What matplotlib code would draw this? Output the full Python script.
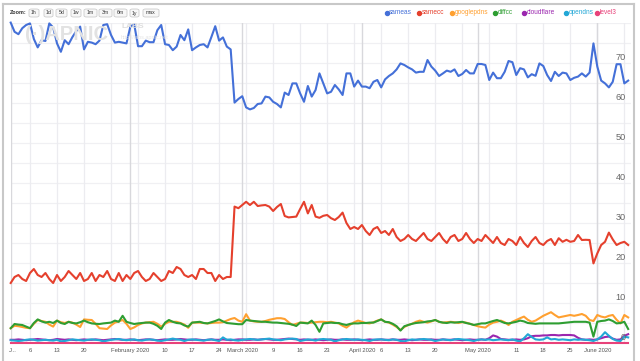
import matplotlib
matplotlib.use("Agg")
import matplotlib.pyplot as plt
import numpy as np
import datetime as dt
from matplotlib.patches import FancyBboxPatch
from matplotlib.lines import Line2D

plt.rcParams['font.family'] = ['Liberation Sans', 'DejaVu Sans']

start = dt.date(2020, 1, 1)

series_names = ["sameas", "samecc", "googlepdns", "diffcc", "cloudflare", "opendns", "level3"]
series_colors = ["#4470d8", "#e5402d", "#ffa030", "#2e9e32", "#9b27af", "#22a7d6", "#e8427a"]

sameas = [80.1, 77.8, 77.2, 78.7, 79.5, 79.9, 76.0, 73.9, 75.7, 75.5, 79.9, 78.9, 74.9, 72.8, 75.7, 74.7,
          76.5, 78.0, 79.1, 73.4, 75.3, 75.1, 74.7, 75.6, 79.5, 79.7, 77.0, 75.1, 75.3, 75.1, 74.9, 79.1,
          79.7, 74.2, 74.2, 75.6, 75.2, 75.2, 78.2, 79.5, 74.7, 74.5, 73.2, 74.1, 77.0, 75.7, 78.4, 73.2,
          73.9, 74.5, 74.7, 73.9, 76.5, 79.2, 75.6, 76.4, 74.1, 73.4,
          60.1, 61.0, 61.7, 58.9, 58.4, 58.75, 59.75, 59.9, 61.6, 61.4, 60.3, 59.75, 58.9, 62.6, 62.0, 64.9,
          64.9, 62.4, 60.3, 64.25, 61.6, 63.25, 67.4, 64.9, 62.4, 62.8, 64.5, 63.4, 62.0, 67.4, 67.4, 64.1,
          65.6, 64.1, 64.1, 63.7, 65.3, 65.75, 63.9, 65.9, 66.75, 67.4, 68.4, 69.9, 69.5, 68.9, 68.4, 67.6,
          67.8, 67.8, 70.75, 69.1, 68.1, 66.75, 67.4, 68.1, 67.8, 68.4, 66.75, 67.25, 68.25, 67.4, 67.4, 69.75,
          69.75, 69.5, 65.75, 67.6, 66.2, 66.2, 67.8, 70.5, 70.2, 67.0, 68.7, 68.4, 66.4, 67.2, 66.8, 69.9,
          69.25, 67.0, 65.5, 67.8, 66.75, 67.6, 67.4, 65.75, 66.3, 66.6, 67.4, 66.6, 67.6, 74.9, 69.1, 65.6,
          64.9, 63.9, 65.3, 69.7, 69.7, 64.9, 65.6]

samecc = [15.0, 16.5, 17.0, 16.0, 15.5, 17.5, 18.5, 17.0, 16.5, 17.5, 16.0, 15.0, 17.0, 15.5, 16.5, 18.0,
          17.0, 16.0, 17.5, 15.5, 16.0, 17.5, 15.5, 17.0, 16.5, 18.0, 16.0, 15.5, 17.5, 15.5, 17.0, 16.0,
          17.5, 18.0, 16.5, 15.5, 16.0, 17.5, 16.5, 15.5, 16.0, 18.0, 17.5, 19.0, 18.5, 17.0, 16.5, 17.0,
          16.0, 18.5, 18.5, 17.5, 17.5, 15.5, 17.0, 16.0, 16.5, 16.5,
          34.1, 33.7, 34.5, 35.3, 34.5, 35.3, 34.25, 34.4, 34.5, 34.1, 33.0, 34.0, 34.75, 31.75, 31.4, 31.5,
          31.6, 33.5, 35.3, 32.4, 34.5, 31.6, 31.3, 31.8, 32.0, 31.2, 30.75, 31.5, 32.6,
          30.0, 28.5, 29.0, 28.5, 29.5, 28.0, 27.0, 28.5, 29.0,
          27.5, 28.0, 27.0, 28.5, 26.5, 25.5, 26.0, 27.0, 26.0, 25.5, 26.5, 27.5, 26.0, 25.5, 26.5, 27.5,
          26.0, 25.0, 26.5, 27.0, 25.5, 26.0, 27.5, 26.0, 25.0, 26.0, 25.5, 27.0, 26.0, 25.0, 26.5, 25.0,
          24.5, 26.0, 25.5, 24.5, 26.5, 25.0, 24.0, 25.5, 26.5, 25.0, 24.5, 25.5, 26.0, 24.5,
          26.2, 25.3, 25.8, 25.3, 25.5, 27.0, 25.75, 25.8, 25.75, 19.9, 22.4, 24.5, 25.3, 27.6, 25.9, 24.5,
          25.0, 25.3, 24.5]

googlepdns = [3.7, 4.3, 4.2, 4.0, 3.8, 3.7, 4.8, 5.75, 5.5, 5.3, 4.6, 4.1, 5.6, 5.2, 5.0, 5.3,
              5.1, 4.6, 4.0, 5.9, 5.8, 5.75, 4.8, 3.7, 3.6, 3.5, 4.4, 5.1, 5.4, 5.75, 4.8, 3.5,
              3.9, 4.5, 4.9, 5.1, 5.2, 5.3, 4.8, 4.1, 4.8, 5.3, 5.3, 5.3, 5.0, 4.6, 3.8, 5.1,
              5.1, 5.1, 5.0, 4.9, 5.0, 5.1, 5.1, 5.2, 5.6, 6.0, 6.25, 5.6, 5.3, 7.2, 5.6, 5.4,
              5.3, 5.3, 5.5, 5.8, 6.0, 6.2, 6.2, 6.0, 5.2, 4.5, 4.8, 5.1, 5.1, 5.0, 5.1, 5.2,
              5.3, 5.3, 5.2, 5.3, 5.1, 4.9, 4.3, 3.85, 4.6, 5.2, 5.6, 5.3, 5.0, 4.9, 5.2, 5.6,
              5.9, 5.3, 5.1, 4.6, 4.0, 3.25, 4.0, 4.5, 4.8, 5.3, 5.6, 5.3, 5.1, 5.4, 5.75, 5.3,
              5.1, 5.2, 5.3, 5.2, 5.0, 5.2, 5.1, 4.8, 4.5, 4.2, 4.0, 3.85, 4.6, 5.1, 5.3, 5.6,
              5.2, 4.5, 5.3, 5.75, 6.2, 6.6, 5.8, 5.3, 5.6, 6.2, 6.8, 7.25, 7.7, 7.0, 6.4, 6.6,
              6.8, 7.0, 6.8, 7.0, 7.25, 6.8, 5.75, 5.5, 7.0, 6.6, 6.4, 6.8, 7.0, 5.8, 4.9, 7.0,
              6.4]

diffcc = [3.7, 4.75, 4.6, 4.5, 4.1, 3.7, 5.0, 5.9, 5.4, 5.1, 5.3, 5.0, 5.6, 5.0, 4.75, 5.3,
          5.0, 4.9, 5.2, 5.6, 5.2, 4.9, 4.8, 4.75, 4.9, 5.0, 5.1, 5.6, 5.3, 6.8, 5.3, 5.0,
          4.75, 4.9, 5.0, 5.1, 5.1, 4.8, 4.3, 3.5, 5.1, 5.75, 5.3, 5.0, 4.9, 4.4, 4.1, 5.1,
          5.2, 5.3, 5.0, 4.9, 5.2, 5.5, 5.9, 5.4, 5.0, 4.9, 4.8, 4.7, 4.7, 5.75, 5.6, 5.5,
          5.4, 5.3, 5.3, 5.2, 5.1, 5.1, 5.0, 4.9, 4.8, 4.6, 4.25, 5.1, 5.0, 4.9, 5.6, 4.5,
          2.8, 4.9, 5.0, 5.1, 5.0, 5.0, 4.7, 4.5, 4.8, 4.9, 4.9, 5.0, 5.0, 5.1, 5.1, 5.5,
          5.9, 5.3, 5.2, 4.8, 4.2, 3.1, 4.2, 4.5, 4.8, 5.0, 5.1, 5.2, 5.4, 5.5, 5.75, 5.3,
          5.1, 5.0, 5.2, 5.1, 5.2, 5.3, 5.0, 4.8, 4.5, 4.7, 4.9, 4.9, 5.2, 5.5, 5.75, 5.4,
          5.0, 4.9, 5.1, 5.3, 5.6, 5.4, 5.0, 4.9, 4.8, 4.9, 4.9, 4.9, 4.9, 4.9, 4.9, 5.0,
          5.1, 5.2, 5.3, 5.3, 5.3, 5.3, 5.1, 1.6, 5.3, 5.5, 5.6, 5.9, 5.5, 4.9, 5.0, 5.3,
          3.5]

cloudflare = [0.8, 0.8, 0.9, 0.8, 0.7, 0.8, 0.9, 1.0, 0.9, 0.8, 0.7, 0.8, 1.0, 0.9, 0.8, 0.9,
              0.8, 0.7, 0.8, 0.9, 0.8, 0.8, 0.9, 0.8, 0.7, 0.8, 0.9, 1.0, 0.9, 0.8, 0.8, 0.9,
              0.8, 0.7, 0.8, 0.9, 0.9, 0.8, 0.7, 0.8, 0.9, 0.8, 0.8, 0.9, 1.0, 0.9, 0.8, 0.8,
              0.9, 0.8, 0.7, 0.8, 0.9, 0.8, 0.8, 0.9, 0.8, 0.7, 0.8, 0.9, 0.9, 0.8, 0.8, 0.9,
              0.8, 0.9, 1.0, 0.9, 0.8, 0.8, 0.9, 1.0, 1.1, 1.0, 0.9, 0.8, 0.9, 0.8, 0.8, 0.9,
              0.8, 0.7, 0.8, 0.9, 0.8, 0.8, 0.9, 0.8, 0.8, 0.9, 0.8, 0.7, 0.8, 0.9, 0.8, 0.8,
              0.9, 0.8, 0.8, 0.9, 0.8, 0.8, 0.9, 0.8, 0.7, 0.8, 0.9, 0.8, 0.8, 0.9, 0.8, 0.8,
              0.9, 0.8, 0.8, 0.9, 0.8, 0.7, 0.8, 0.9, 0.8, 0.8, 0.9, 0.8, 1.2, 1.9, 1.6, 1.0,
              0.9, 0.8, 0.8, 0.9, 0.8, 0.9, 1.2, 1.7, 1.8, 1.8, 1.9, 1.9, 2.0, 2.0, 1.9, 2.0,
              2.0, 2.0, 1.9, 1.3, 0.9, 0.8, 0.9, 0.8, 0.9, 1.2, 1.5, 1.6, 1.1, 0.8, 0.9, 1.8,
              2.2]

opendns = [0.7, 0.6, 0.5, 0.6, 0.8, 0.9, 0.8, 0.6, 0.7, 0.8, 0.7, 0.6, 0.8, 0.4, 0.5, 0.7,
           0.9, 0.8, 0.7, 0.6, 0.8, 0.9, 0.8, 0.7, 0.4, 0.6, 0.8, 0.9, 1.0, 0.8, 0.7, 0.8,
           0.9, 0.7, 0.6, 0.8, 0.9, 0.8, 0.6, 0.5, 0.7, 0.9, 1.1, 0.9, 0.8, 0.5, 0.8, 0.9,
           0.8, 0.7, 0.6, 0.8, 0.9, 0.7, 0.5, 1.4, 0.8, 0.9, 0.7, 0.6, 0.8, 0.9, 1.0, 0.9,
           0.8, 0.9, 1.0, 1.1, 0.9, 0.8, 0.7, 0.9, 1.0, 1.1, 1.0, 0.5, 0.7, 0.9, 0.8, 0.6,
           0.9, 1.0, 0.9, 0.8, 0.4, 0.7, 0.9, 1.0, 0.9, 0.8, 0.9, 0.8, 0.7, 0.5, 0.8, 0.9,
           0.9, 0.8, 0.7, 0.9, 0.8, 0.5, 0.4, 0.7, 0.9, 0.8, 0.9, 1.0, 0.9, 0.8, 0.5, 0.7,
           0.9, 0.8, 0.7, 0.9, 1.0, 0.9, 0.8, 0.7, 0.5, 0.8, 0.9, 0.8, 0.9, 0.7, 0.8, 0.9,
           0.8, 0.7, 0.9, 0.6, 0.4, 1.2, 2.2, 1.5, 0.9, 0.8, 0.9, 1.4, 0.9, 1.0, 0.8, 0.9,
           0.8, 0.7, 0.9, 0.8, 0.9, 0.8, 0.7, 0.5, 0.9, 1.6, 2.7, 1.8, 1.0, 0.6, 0.5, 1.6,
           1.4]

level3 = [0.05, 0.05, 0.05, 0.05, 0.05, 0.05, 0.05, 0.05, 0.05, 0.05, 0.05, 0.05, 0.05, 0.05, 0.05, 0.05,
          0.05, 0.05, 0.05, 0.05, 0.05, 0.05, 0.05, 0.05, 0.05, 0.05, 0.05, 0.05, 0.05, 0.05, 0.05, 0.05,
          0.05, 0.05, 0.05, 0.05, 0.05, 0.05, 0.05, 0.05, 0.05, 0.05, 0.05, 0.05, 0.05, 0.05, 0.05, 0.05,
          0.05, 0.05, 0.05, 0.05, 0.05, 0.05, 0.05, 0.05, 0.05, 0.05, 0.05, 0.05, 0.05, 0.05, 0.05, 0.05,
          0.05, 0.05, 0.05, 0.05, 0.05, 0.05, 0.05, 0.05, 0.05, 0.05, 0.05, 0.05, 0.05, 0.05, 0.05, 0.05,
          0.05, 0.05, 0.05, 0.05, 0.05, 0.05, 0.05, 0.05, 0.05, 0.05, 0.05, 0.05, 0.05, 0.05, 0.05, 0.05,
          0.05, 0.05, 0.05, 0.05, 0.05, 0.05, 0.05, 0.05, 0.05, 0.05, 0.05, 0.05, 0.05, 0.05, 0.05, 0.05,
          0.05, 0.05, 0.05, 0.05, 0.05, 0.05, 0.05, 0.05, 0.05, 0.05, 0.05, 0.05, 0.05, 0.05, 0.05, 0.05,
          0.05, 0.05, 0.05, 0.05, 0.05, 0.05, 0.05, 0.05, 0.05, 0.05, 0.05, 0.05, 0.05, 0.05, 0.05, 0.05,
          0.05, 0.05, 0.05, 0.05, 0.05, 0.05, 0.05, 0.05, 0.05, 0.05, 0.05, 0.05, 0.05, 0.05, 0.05, 0.05,
          0.05]

all_series = [sameas, samecc, googlepdns, diffcc, cloudflare, opendns, level3]

W, H = 640, 361
fig = plt.figure(figsize=(W / 100, H / 100), dpi=100)

# plot area in pixels
px_left, px_right = 10.7, 630.5
py_top, py_bot = 23.0, 343.0
ax = fig.add_axes([px_left / W, 1 - py_bot / H, (px_right - px_left) / W, (py_bot - py_top) / H])
ax.set_xlim(0, 160.6)
ax.set_ylim(0, 80)
for s in ax.spines.values():
    s.set_visible(False)
ax.set_xticks([])
ax.set_yticks([])
ax.patch.set_alpha(0)

# horizontal grid
for v in np.arange(5, 81, 5):
    ax.axhline(v, color="#f0f0f3", lw=0.9, zorder=0)

# vertical grid: Mondays and month starts
month_starts = [dt.date(2020, m, 1) for m in range(1, 7)]
mondays = [dt.date(2020, 1, 6) + dt.timedelta(days=7 * k) for k in range(23)]
for d in mondays:
    x = (d - start).days
    if x <= 160:
        ax.axvline(x, color="#ececf0", lw=0.9, zorder=0)
for d in month_starts:
    x = (d - start).days
    ax.axvline(x, color="#d8d8dc", lw=1.0, zorder=0)

# watermark
fig.text(25 / W, 1 - 34 / H, "(·)APNIC", fontsize=14.5, color="#e2e2e2", fontweight="bold",
         va="center", ha="left", zorder=0)
fig.text(121 / W, 1 - 27 / H, "LABS", fontsize=6, color="#dedede", fontweight="bold",
         va="center", ha="left", zorder=0)
fig.text(121 / W, 1 - 38 / H, "http://labs.apnic.net", fontsize=4, color="#e6e6e6",
         va="center", ha="left", zorder=0)

# series
for vals, col in zip(all_series, series_colors):
    ax.plot(np.arange(len(vals)), vals, color=col, lw=1.5, zorder=3, clip_on=False,
            solid_joinstyle="round")

# y labels inside plot, right aligned, above gridline
for v in range(0, 80, 10):
    ax.annotate(str(v), xy=(1, v), xycoords=("axes fraction", "data"),
                xytext=(-3.2, 2.2), textcoords="offset points",
                ha="right", va="baseline", fontsize=6.6, color="#666666", zorder=5)

# x labels
x_labels = [("J...", dt.date(2020, 1, 1)), ("6", dt.date(2020, 1, 6)), ("13", dt.date(2020, 1, 13)),
            ("20", dt.date(2020, 1, 20)), ("February 2020", dt.date(2020, 2, 1)),
            ("10", dt.date(2020, 2, 10)), ("17", dt.date(2020, 2, 17)), ("24", dt.date(2020, 2, 24)),
            ("March 2020", dt.date(2020, 3, 1)), ("9", dt.date(2020, 3, 9)), ("16", dt.date(2020, 3, 16)),
            ("23", dt.date(2020, 3, 23)), ("April 2020", dt.date(2020, 4, 1)), ("6", dt.date(2020, 4, 6)),
            ("13", dt.date(2020, 4, 13)), ("20", dt.date(2020, 4, 20)), ("May 2020", dt.date(2020, 5, 1)),
            ("11", dt.date(2020, 5, 11)), ("18", dt.date(2020, 5, 18)), ("25", dt.date(2020, 5, 25)),
            ("June 2020", dt.date(2020, 6, 1))]
for lab, d in x_labels:
    x = (d - start).days
    ha = "left" if lab == "J..." else "center"
    xx = x - 0.6 if lab == "J..." else x
    ax.annotate(lab, xy=(xx, 0), xycoords="data", xytext=(0, -5.4), textcoords="offset points",
                ha=ha, va="center", fontsize=4.2, color="#555555", annotation_clip=False)

# outer border (left, top, right)
bc = "#c8c8c8"
fig.add_artist(Line2D([3 / W, 3 / W], [0, 1 - 4 / H], color=bc, lw=1.5, transform=fig.transFigure))
fig.add_artist(Line2D([3 / W, 634 / W], [1 - 4 / H, 1 - 4 / H], color=bc, lw=1.5, transform=fig.transFigure))
fig.add_artist(Line2D([634 / W, 634 / W], [0, 1 - 4 / H], color=bc, lw=1.5, transform=fig.transFigure))

# zoom buttons
fig.text(10 / W, 1 - 13 / H, "Zoom:", fontsize=3.9, fontweight="bold", color="#333333", va="center", ha="left")
buttons = [("1h", 29, 39), ("1d", 44, 53), ("5d", 56, 67), ("1w", 71, 81), ("1m", 84, 97),
           ("3m", 99, 112), ("6m", 114, 127), ("1y", 130, 139), ("max", 143, 159)]
for lab, x0, x1 in buttons:
    r = FancyBboxPatch((x0 / W, 1 - 17 / H), (x1 - x0) / W, 8 / H,
                       boxstyle="round,pad=0,rounding_size=0.004", transform=fig.transFigure,
                       facecolor="#f7f7f7", edgecolor="#cccccc", lw=0.6)
    fig.add_artist(r)
    fig.text((x0 + x1) / 2 / W, 1 - 13 / H, lab, fontsize=3.7, color="#333333", va="center", ha="center")

# legend
legend_dot = [386.7, 419.0, 451.7, 495.0, 524.0, 565.7, 597.3]
legend_txt = [389.0, 421.7, 454.3, 497.7, 526.7, 568.3, 600.0]
for name, col, xp, xt in zip(series_names, series_colors, legend_dot, legend_txt):
    fig.add_artist(Line2D([xp / W], [1 - 12.5 / H], marker="o", markersize=2.9, color=col,
                          transform=fig.transFigure, linestyle="none"))
    fig.text(xt / W, 1 - 12.5 / H, name, fontsize=4.7, color=col, va="center", ha="left")

fig.savefig("out.png", dpi=100)
